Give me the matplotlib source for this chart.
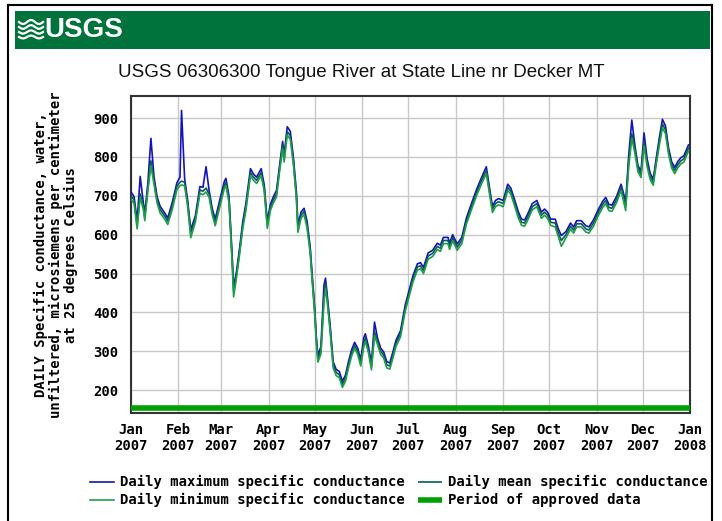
import numpy as np
import matplotlib
matplotlib.use("Agg")
import matplotlib.pyplot as plt
from matplotlib.lines import Line2D
from matplotlib.patches import Rectangle

# Day of year 2007 (0 = Jan 1) and daily specific conductance
days = [0, 2, 4, 6, 8, 9, 11, 13, 15, 17, 19, 22, 24, 27, 30, 32, 33, 35, 37, 39,
        42, 45, 47, 49, 51, 53, 55, 58, 61, 62, 64, 66, 67, 69, 71, 73, 75, 78, 80, 82,
        85, 87, 89, 91, 93, 95, 97, 99, 100, 102, 104, 106, 108, 109, 111, 113, 115, 117, 118, 120,
        121, 122, 124, 126, 127, 128, 130, 132, 134, 136, 138, 140, 142, 144, 146, 148, 150, 152, 153, 155,
        157, 159, 161, 163, 165, 167, 169, 171, 173, 176, 179, 182, 184, 187, 189, 191, 194, 197, 200, 202,
        204, 207, 208, 210, 213, 216, 219, 223, 226, 229, 232, 234, 236, 238, 240, 243, 246, 248, 250, 253,
        255, 257, 259, 262, 265, 268, 270, 272, 274, 277, 279, 281, 284, 287, 289, 291, 294, 297, 299, 302,
        305, 308, 310, 312, 314, 317, 320, 322, 323, 325, 327, 329, 331, 333, 335, 337, 339, 341, 343, 345,
        347, 349, 351, 353, 355, 357, 359, 361, 364]

daily_mean = [700, 690, 625, 705, 675, 645, 720, 790, 740, 690, 665, 648, 635, 675, 725, 735, 738, 735, 680, 605,
              640, 715, 712, 720, 705, 660, 632, 680, 728, 735, 690, 540, 455, 500, 560, 625, 670, 760, 748, 740,
              760, 720, 625, 670, 690, 705, 770, 830, 795, 865, 855, 790, 700, 615, 650, 660, 625, 560, 505, 400,
              330, 280, 300, 440, 475, 440, 360, 265, 245, 240, 215, 230, 265, 295, 315, 300, 270, 320, 335, 305,
              260, 350, 325, 300, 290, 265, 262, 290, 320, 345, 410, 455, 485, 517, 520, 508, 545, 552, 570, 565,
              585, 585, 570, 592, 568, 585, 635, 680, 712, 740, 765, 715, 665, 680, 685, 680, 722, 712, 688, 650,
              632, 630, 645, 672, 680, 650, 658, 650, 632, 630, 605, 585, 600, 622, 612, 628, 628, 615, 612, 630,
              656, 678, 688, 670, 668, 690, 722, 690, 672, 790, 860, 820, 770, 755, 840, 785, 750, 735, 790, 840,
              885, 870, 815, 780, 765, 780, 790, 795, 823]

daily_max = [710, 698, 635, 750, 684, 654, 732, 848, 750, 698, 673, 656, 643, 684, 734, 748, 920, 745, 688, 613,
             648, 724, 722, 775, 714, 668, 640, 690, 738, 745, 698, 550, 465, 508, 568, 634, 680, 770, 756, 748,
             770, 728, 634, 678, 698, 714, 778, 840, 805, 878, 866, 800, 710, 624, 658, 668, 634, 568, 513, 408,
             338, 288, 312, 470, 488, 450, 368, 273, 253, 248, 223, 238, 273, 303, 323, 308, 278, 335, 345, 313,
             268, 375, 333, 308, 298, 273, 270, 298, 328, 353, 418, 463, 493, 525, 528, 516, 553, 560, 578, 573,
             593, 593, 578, 600, 576, 593, 643, 688, 720, 748, 775, 723, 673, 688, 693, 688, 730, 720, 696, 658,
             640, 638, 653, 680, 688, 658, 666, 658, 640, 640, 615, 598, 608, 630, 620, 636, 636, 623, 620, 638,
             664, 686, 696, 678, 676, 698, 730, 700, 682, 805, 895, 830, 778, 763, 862, 795, 758, 743, 798, 850,
             897, 880, 823, 788, 773, 788, 798, 803, 831]

daily_min = [692, 680, 615, 696, 666, 636, 712, 778, 730, 682, 656, 640, 626, 666, 716, 726, 728, 726, 672, 592,
             632, 706, 703, 710, 696, 652, 623, 672, 720, 726, 682, 530, 440, 492, 552, 616, 662, 752, 740, 732,
             752, 712, 616, 662, 682, 697, 762, 822, 787, 856, 846, 782, 692, 606, 642, 652, 616, 552, 497, 392,
             322, 272, 292, 425, 462, 432, 352, 257, 237, 232, 207, 222, 257, 287, 307, 292, 262, 312, 326, 297,
             252, 340, 317, 292, 282, 257, 254, 282, 312, 337, 402, 447, 477, 509, 512, 500, 537, 544, 562, 557,
             577, 577, 562, 584, 560, 577, 627, 672, 704, 732, 757, 707, 657, 672, 677, 672, 714, 704, 680, 642,
             624, 622, 637, 664, 672, 642, 650, 642, 624, 620, 595, 570, 592, 614, 604, 620, 620, 607, 604, 622,
             648, 670, 680, 662, 660, 682, 714, 680, 662, 775, 848, 810, 762, 747, 828, 775, 742, 727, 782, 830,
             875, 860, 807, 772, 757, 772, 782, 787, 815]

approved_period = [0, 365]
approved_level = 155

month_starts = [0, 31, 59, 90, 120, 151, 181, 212, 243, 273, 304, 334, 365]
month_labels = ["Jan\n2007", "Feb\n2007", "Mar\n2007", "Apr\n2007", "May\n2007", "Jun\n2007",
                "Jul\n2007", "Aug\n2007", "Sep\n2007", "Oct\n2007", "Nov\n2007", "Dec\n2007", "Jan\n2008"]
y_ticks = [200, 300, 400, 500, 600, 700, 800, 900]

W, H = 722, 521
MONO = "DejaVu Sans Mono"
NARROW = ["Liberation Sans Narrow", "Liberation Sans", "DejaVu Sans"]


def fx(px):
    return px / W


def fy(py):
    return 1 - py / H


fig = plt.figure(figsize=(W / 100, H / 100), dpi=100)
fig.patch.set_facecolor("white")

# outer frame
for xs, ys in [([8, 8], [5, 521]), ([8, 712], [5, 5]), ([712, 712], [5, 521])]:
    fig.add_artist(Line2D([fx(x) for x in xs], [fy(y) for y in ys], color="black", lw=1.5))

# USGS banner
fig.add_artist(Rectangle((fx(15), fy(49)), fx(710) - fx(15), fy(11) - fy(49),
                         transform=fig.transFigure, color="#00733c", lw=0))
t = np.linspace(0, 1, 40)
for k in range(4):
    xs = 19 + 24 * t
    ys = 22 + 5 * k + 2.0 * np.sin(t * 2 * np.pi * 1.5) * (1 - 0.3 * k / 3)
    fig.add_artist(Line2D([fx(v) for v in xs], [fy(v) for v in ys], color="white", lw=1.6))
fig.text(fx(44), fy(30), "USGS", color="white", fontsize=20, fontweight="bold",
         family=NARROW, ha="left", va="center")

fig.text(fx(361), fy(72), "USGS 06306300 Tongue River at State Line nr Decker MT",
         fontsize=13.5, family=NARROW, ha="center", va="center", color="#111111")

ax = fig.add_axes([fx(131), fy(413), fx(690) - fx(131), fy(96) - fy(413)])
ax.plot(days, daily_max, color="#1414b4", lw=1.2, zorder=3)
ax.plot(days, daily_mean, color="#0b5a5a", lw=1.2, zorder=4)
ax.plot(days, daily_min, color="#1e9e4a", lw=1.2, zorder=5)
ax.plot(approved_period, [approved_level, approved_level], color="#00a000", lw=4,
        solid_capstyle="butt", zorder=6)

ax.set_xlim(0, 365)
ax.set_ylim(141, 957)
ax.set_xticks(month_starts)
ax.set_xticklabels(month_labels, family=MONO, fontweight="bold", fontsize=10)
ax.set_yticks(y_ticks)
ax.set_yticklabels([str(v) for v in y_ticks], family=MONO, fontweight="bold", fontsize=10)
ax.tick_params(length=0)
ax.tick_params(axis="y", pad=9)
ax.tick_params(axis="x", pad=7)
ax.grid(True, color="#c8c8c8", lw=1)
ax.set_axisbelow(True)
for s in ax.spines.values():
    s.set_color("#333333")
    s.set_linewidth(1.5)

fig.text(fx(56), fy(255),
         "DAILY Specific conductance, water,\nunfiltered, microsiemens per centimeter\nat 25 degrees Celsius",
         rotation=90, ha="center", va="center", multialignment="center",
         family=MONO, fontweight="bold", fontsize=10, linespacing=1.1)

# legend
legend_rows = [
    (482, "#1414b4", 1.2, "Daily maximum specific conductance", "#0b5a5a", 1.2, "Daily mean specific conductance"),
    (500, "#1e9e4a", 1.2, "Daily minimum specific conductance", "#00a000", 4, "Period of approved data"),
]
for y, c1, w1, l1, c2, w2, l2 in legend_rows:
    fig.add_artist(Line2D([fx(90), fx(114)], [fy(y), fy(y)], color=c1, lw=w1))
    fig.text(fx(120), fy(y), l1, family=MONO, fontweight="bold", fontsize=10, va="center")
    fig.add_artist(Line2D([fx(418), fx(442)], [fy(y), fy(y)], color=c2, lw=w2, solid_capstyle="butt"))
    fig.text(fx(448), fy(y), l2, family=MONO, fontweight="bold", fontsize=10, va="center")

fig.savefig("out.png", dpi=100)
